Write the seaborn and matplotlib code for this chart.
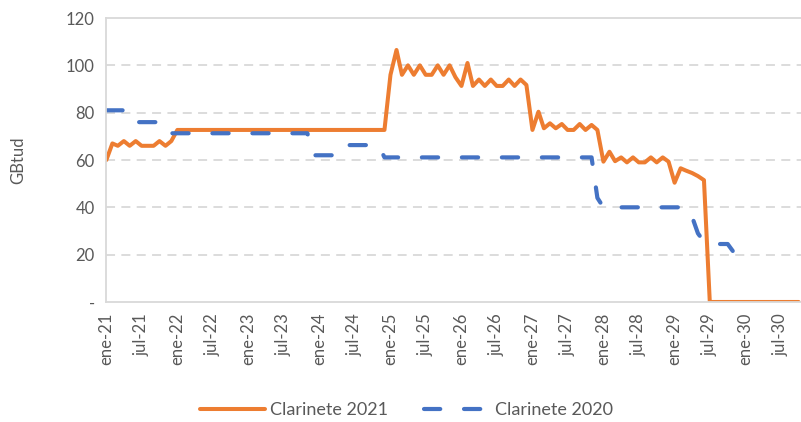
import seaborn as sns
import pandas as pd
import matplotlib.pyplot as plt

# monthly values, starting ene-21
clarinete_2021 = [
    60, 67, 66, 68, 66, 68, 66, 66, 66, 68, 66, 68,
    72.7, 72.7, 72.7, 72.7, 72.7, 72.7, 72.7, 72.7, 72.7, 72.7, 72.7, 72.7,
    72.7, 72.7, 72.7, 72.7, 72.7, 72.7, 72.7, 72.7, 72.7, 72.7, 72.7, 72.7,
    72.7, 72.7, 72.7, 72.7, 72.7, 72.7, 72.7, 72.7, 72.7, 72.7, 72.7, 72.7,
    96, 106.5, 96, 100, 96, 100, 96, 96, 100, 96, 100, 95,
    91.3, 101, 91.3, 94, 91.3, 94, 91.3, 91.3, 94, 91.3, 94, 91.7,
    72.7, 80.4, 73.4, 75.5, 73.4, 75.2, 72.7, 72.7, 75.2, 72.7, 74.8, 72.7,
    59.3, 63.5, 59.5, 61.1, 59, 61.1, 59, 59, 61.1, 59, 61.1, 59.3,
    50.4, 56.5, 55.5, 54.5, 53.2, 51.5,
    0, 0, 0, 0, 0, 0, 0, 0, 0, 0, 0, 0, 0, 0, 0, 0,
]
clarinete_2020 = [
    81, 81, 81, 81, 81,
    76, 76, 76, 76, 76, 76,
    71.3, 71.3, 71.3, 71.3, 71.3, 71.3, 71.3, 71.3, 71.3, 71.3, 71.3, 71.3,
    71.3, 71.3, 71.3, 71.3, 71.3, 71.3, 71.3, 71.3, 71.3, 71.3, 71.3, 71.3,
    62, 62, 62, 62, 62, 62,
    66.3, 66.3, 66.3, 66.3, 66.3, 66.3,
    61.1, 61.1, 61.1, 61.1, 61.1, 61.1, 61.1, 61.1, 61.1, 61.1, 61.1, 61.1,
    61.1, 61.1, 61.1, 61.1, 61.1, 61.1, 61.1, 61.1, 61.1, 61.1, 61.1, 61.1,
    61.1, 61.1, 61.1, 61.1, 61.1, 61.1, 61.1, 61.1, 61.1, 61.1, 61.1, 61.1,
    44,
    40, 40, 40, 40, 40, 40, 40, 40, 40, 40, 40, 40, 40, 40, 40,
    36, 29, 25.5,
    24.5, 24.5, 24.5, 24.5,
    21,
]
tick_labels = [
    "ene-21", "jul-21", "ene-22", "jul-22", "ene-23", "jul-23", "ene-24", "jul-24",
    "ene-25", "jul-25", "ene-26", "jul-26", "ene-27", "jul-27", "ene-28", "jul-28",
    "ene-29", "jul-29", "ene-30", "jul-30",
]
y_ticks = [0, 20, 40, 60, 80, 100, 120]
y_labels = ["-", "20", "40", "60", "80", "100", "120"]

dates_2021 = pd.date_range("2021-01-01", periods=len(clarinete_2021), freq="MS")
dates_2020 = pd.date_range("2021-01-01", periods=len(clarinete_2020), freq="MS")
tick_dates = pd.date_range("2021-01-01", periods=len(tick_labels), freq="6MS")

sns.set_theme(style="white")
plt.rcParams['font.family'] = ['Lato', 'DejaVu Sans']

grey_text = "#595959"
grid_col = "#d9d9d9"

fig = plt.figure(figsize=(8.01, 4.22), dpi=100)
ax = fig.add_axes([0.1323, 0.2844, 0.8677, 0.6729])

sns.lineplot(x=dates_2021, y=clarinete_2021, ax=ax, color="#ED7D31",
             linewidth=2.9, label="Clarinete 2021")
sns.lineplot(x=dates_2020, y=clarinete_2020, ax=ax, color="#4472C4",
             linewidth=3.0, label="Clarinete 2020")
blue = ax.lines[1]
blue.set_dashes((3.9, 5.7))
blue.set_dash_capstyle("round")

ax.set_ylim(0, 120)
ax.set_xlim(pd.Timestamp("2020-12-30"), pd.Timestamp("2030-10-13"))
ax.set_yticks(y_ticks)
ax.set_yticklabels(y_labels)
ax.set_xticks(tick_dates)
ax.set_xticklabels(tick_labels, rotation=90)
ax.set_xlabel("")

for y in y_ticks[1:-1]:
    ax.axhline(y, color=grid_col, linewidth=1.3, linestyle=(0, (5, 3.5)), zorder=0)

for side in ["left", "bottom", "top"]:
    ax.spines[side].set_visible(True)
    ax.spines[side].set_color(grid_col)
    ax.spines[side].set_linewidth(1.3)
ax.spines["right"].set_visible(False)

ax.tick_params(axis="both", direction="out", length=5, width=1.3, color=grid_col,
               labelcolor=grey_text, labelsize=12, pad=3)
ax.set_ylabel("GBtud", color=grey_text, fontsize=12)
ax.yaxis.set_label_coords(-0.115, 0.5)

ax.get_legend().remove()
handles, labels = ax.get_legend_handles_labels()
leg = fig.legend(handles, labels, loc="center", bbox_to_anchor=(0.507, 0.028),
                 ncol=2, frameon=False, fontsize=13, handlelength=3.6,
                 handletextpad=0.3, columnspacing=2.0, labelcolor=grey_text)

fig.savefig("out.png", dpi=100)
